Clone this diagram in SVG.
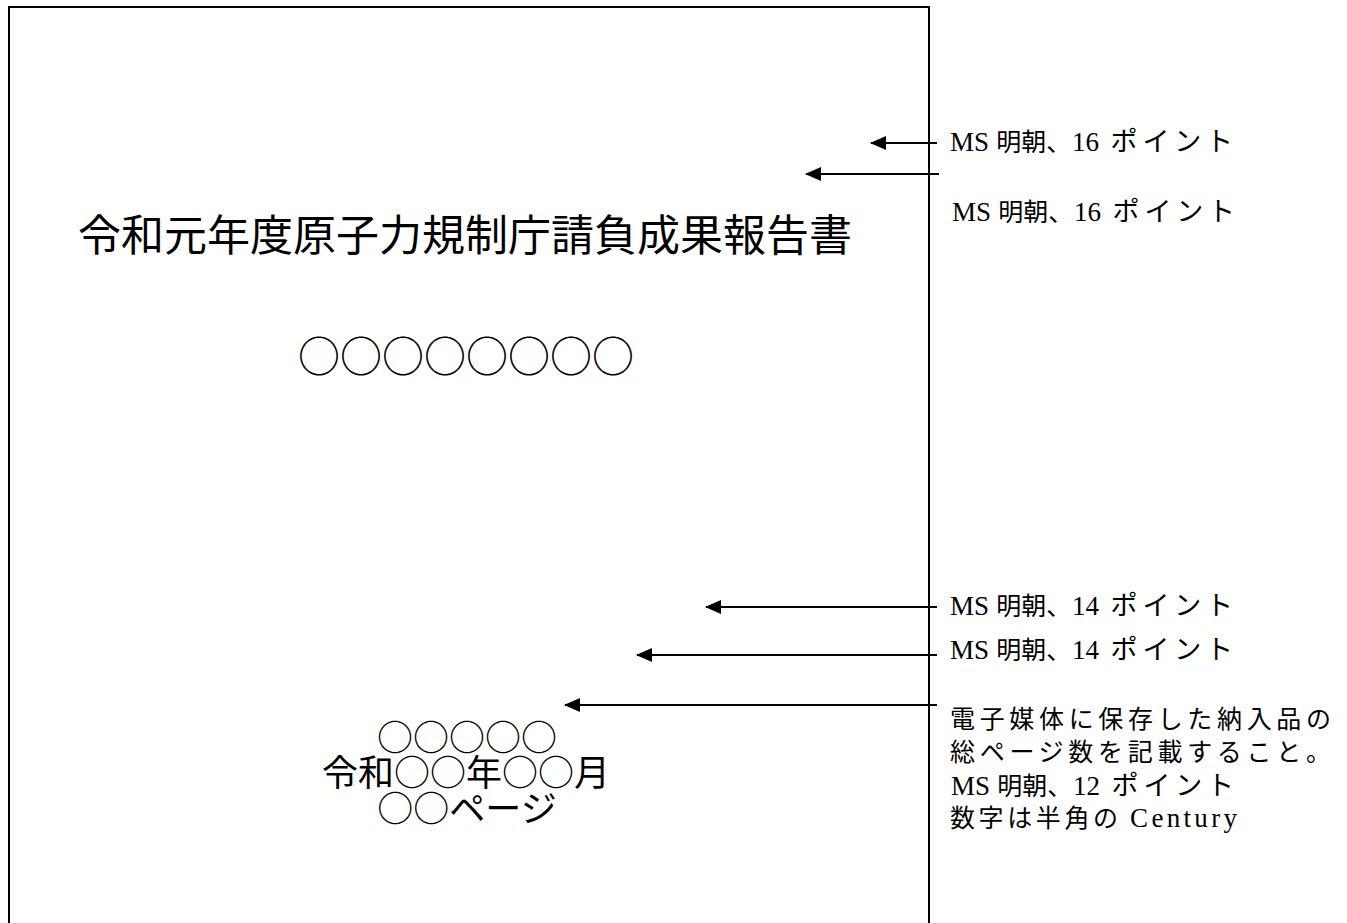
<svg xmlns="http://www.w3.org/2000/svg" width="1347" height="923" viewBox="0 0 1347 923">
<style>
.jp{font-family:"Liberation Serif","Noto Sans CJK JP",serif;fill:#000}
.cj{font-family:"Noto Sans CJK JP","Liberation Serif",sans-serif;fill:#000}
.c{text-anchor:middle}
.lbl{font-size:25px}
.lat{font-family:"Liberation Serif",serif;font-size:27px}
.kt{font-size:27px}
.ln{stroke:#000;stroke-width:2;fill:none}
</style>
<defs>
<marker id="ah" markerWidth="16" markerHeight="14" refX="15" refY="7" orient="auto" markerUnits="userSpaceOnUse">
<path d="M0,0 L16,7 L0,14 Z" fill="#000"/>
</marker>
</defs>
<rect width="1347" height="923" fill="#fff"/>
<g id="page">
<path d="M9,930 V7 H929 V930" class="ln" stroke-width="2.4"/>
</g>
<g id="title">
<text class="cj c" x="465" y="251" font-size="43">令和元年度原子力規制庁請負成果報告書</text>
</g>
<g id="subtitle">
<text class="cj c" x="466" y="372" font-size="42">○○○○○○○○</text>
</g>
<g id="footer">
<text class="cj c" x="467" y="751" font-size="36">○○○○○</text>
<text class="cj c" x="466" y="786" font-size="36">令和○○年○○月</text>
<text class="cj c" x="467" y="822" font-size="36">○○ページ</text>
</g>
<g id="label1"><text class="jp lbl" y="151"><tspan class="lat" x="950">MS</tspan><tspan x="990"> 明朝、</tspan><tspan class="lat" x="1072">16</tspan><tspan class="kt" x="1099" textLength="134" lengthAdjust="spacing"> ポイント</tspan></text></g>
<g id="label2"><text class="jp lbl" y="221"><tspan class="lat" x="952">MS</tspan><tspan x="992"> 明朝、</tspan><tspan class="lat" x="1074">16</tspan><tspan class="kt" x="1101" textLength="134" lengthAdjust="spacing"> ポイント</tspan></text></g>
<g id="label3"><text class="jp lbl" y="615"><tspan class="lat" x="950">MS</tspan><tspan x="990"> 明朝、</tspan><tspan class="lat" x="1072">14</tspan><tspan class="kt" x="1099" textLength="134" lengthAdjust="spacing"> ポイント</tspan></text></g>
<g id="label4"><text class="jp lbl" y="659"><tspan class="lat" x="950">MS</tspan><tspan x="990"> 明朝、</tspan><tspan class="lat" x="1072">14</tspan><tspan class="kt" x="1099" textLength="134" lengthAdjust="spacing"> ポイント</tspan></text></g>
<g id="label5">
<text class="jp lbl" x="950" y="728" textLength="381" lengthAdjust="spacing">電子媒体に保存した納入品の</text>
<text class="jp lbl" x="950" y="761" textLength="381" lengthAdjust="spacing">総ページ数を記載すること。</text>
<text class="jp lbl" y="795"><tspan class="lat" x="951">MS</tspan><tspan x="991"> 明朝、</tspan><tspan class="lat" x="1073">12</tspan><tspan class="kt" x="1100" textLength="134" lengthAdjust="spacing"> ポイント</tspan></text>
<text class="jp lbl" y="827"><tspan x="950" textLength="168" lengthAdjust="spacing">数字は半角の</tspan><tspan class="lat" x="1120" font-size="29" textLength="117" lengthAdjust="spacing"> Century</tspan></text>
</g>
<g id="connectors">
<line class="ln" x1="937" y1="143" x2="871" y2="143" marker-end="url(#ah)"/>
<line class="ln" x1="939" y1="174" x2="806" y2="174" marker-end="url(#ah)"/>
<line class="ln" x1="937" y1="607" x2="706" y2="607" marker-end="url(#ah)"/>
<line class="ln" x1="937" y1="655" x2="637" y2="655" marker-end="url(#ah)"/>
<line class="ln" x1="937" y1="705" x2="565" y2="705" marker-end="url(#ah)"/>
</g>
</svg>
